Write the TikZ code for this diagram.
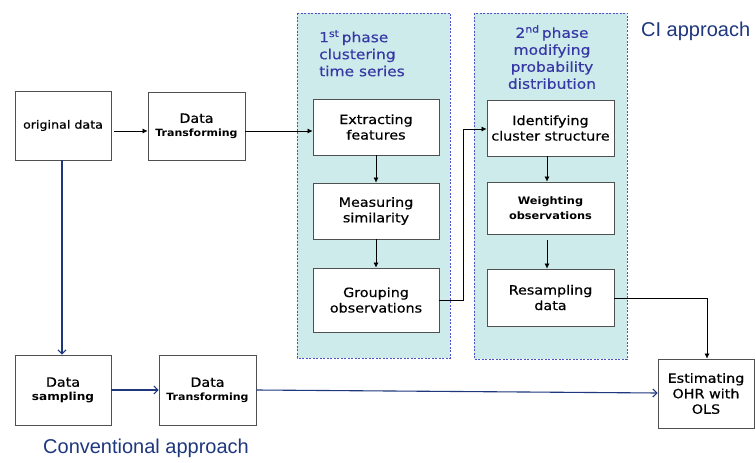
\documentclass[tikz,border=0pt]{standalone}
\usepackage{fontspec}
\usetikzlibrary{arrows.meta,calc}
\newfontfamily\boxfont[FakeStretch=1.12,FakeBold=0.6]{DejaVu Sans}
\newfontfamily\strongfont[FakeStretch=1.1]{DejaVu Sans Bold}
\newfontfamily\phasefont[FakeStretch=1.12,FakeBold=0.3]{DejaVu Sans}
\newfontfamily\titlefont{Liberation Sans}
\definecolor{panelfill}{RGB}{205,235,235}
\definecolor{paneledge}{RGB}{80,80,200}
\definecolor{phasetext}{RGB}{55,55,165}
\definecolor{navy}{RGB}{30,55,125}
\definecolor{boxedge}{RGB}{80,80,80}
\begin{document}
\begin{tikzpicture}[x=1pt,y=-1pt,
  stepbox/.style={draw=boxedge,line width=0.8pt,fill=white,align=center,
    inner sep=0pt,font=\boxfont\fontsize{12.8}{15.5}\selectfont},
  panel/.style={draw=paneledge,fill=panelfill,line width=0.8pt,
    dash pattern=on 2pt off 1.5pt},
  phase/.style={text=phasetext,font=\phasefont\fontsize{13.8}{17}\selectfont,inner sep=0pt},
  approach/.style={text=navy,font=\titlefont\fontsize{20}{24}\selectfont,inner sep=0pt},
  flow/.style={draw=black,line width=0.6pt,-{Latex[length=5pt,width=5pt]}},
  convflow/.style={draw=navy,line width=1.1pt,-{Straight Barb[length=4pt,width=8pt]}}
]
\useasboundingbox (0,0) rectangle (756,463);

% the two phase panels
\path[panel] (297,13) rectangle (450,358);
\path[panel] (474,13) rectangle (627,359);

% panel headings
\node[phase,anchor=north west,align=left] (ph1) at (319,30)
  {1\textsuperscript{st}\,phase\\clustering\\time series};
\node[phase,anchor=north,align=center] (ph2) at (552,25)
  {2\textsuperscript{nd}\,phase\\modifying\\probability\\distribution};

% approach labels
\node[approach,anchor=west] (ci) at (641,31) {CI approach};
\node[approach,anchor=west] (conv) at (43,448) {Conventional approach};

% boxes
\node[stepbox,minimum width=96pt,minimum height=69pt] (orig) at (63,125.5)
  {\fontsize{11.3}{14}\selectfont original data};
\node[stepbox,minimum width=97pt,minimum height=68pt] (dt1) at (196.5,126)
  {Data\\[-2pt]{\strongfont\fontsize{10}{12}\selectfont Transforming}};
\node[stepbox,minimum width=126pt,minimum height=56pt] (ext) at (376,127)
  {Extracting\\features};
\node[stepbox,minimum width=126pt,minimum height=56pt] (meas) at (376,211)
  {Measuring\\similarity};
\node[stepbox,minimum width=126pt,minimum height=64pt] (grp) at (376,300)
  {Grouping\\observations};
\node[stepbox,minimum width=127pt,minimum height=56pt] (idn) at (550.5,128)
  {Identifying\\cluster structure};
\node[stepbox,minimum width=127pt,minimum height=52pt] (wgt) at (550.5,208)
  {\strongfont\fontsize{10.3}{14}\selectfont Weighting\\\strongfont\fontsize{10.3}{14}\selectfont observations};
\node[stepbox,minimum width=127pt,minimum height=57pt] (res) at (550.5,297.5)
  {Resampling\\data};
\node[stepbox,minimum width=96pt,minimum height=69pt] (est) at (706,393.5)
  {Estimating\\OHR with\\OLS};
\node[stepbox,minimum width=96pt,minimum height=70pt] (samp) at (63,390)
  {Data\\[-2pt]{\strongfont\fontsize{11}{12}\selectfont sampling}};
\node[stepbox,minimum width=97pt,minimum height=70pt] (dt2) at (207.5,390)
  {Data\\[-2pt]{\strongfont\fontsize{10}{12}\selectfont Transforming}};

% routing points
\coordinate (up) at (463,300);
\coordinate (down) at (707,298);

% CI approach connectors
\draw[flow] ($(orig.east|-0,131)+(3,0)$) -- (dt1.west|-0,131);
\draw[flow] (dt1.east|-0,131) -- (ext.west|-0,131);
\draw[flow] (ext.south) -- (meas.north);
\draw[flow] (meas.south) -- (grp.north);
\draw[flow] (grp.east|-up) -- (up) -- (up|-0,129) -- (idn.west|-0,129);
\draw[flow] (idn.south-|547,0) -- (wgt.north-|547,0);
\draw[flow] ($(wgt.south-|547,0)+(0,6)$) -- (res.north-|547,0);
\draw[flow] (res.east|-down) -- (down) -- (est.north-|down);

% conventional approach connectors
\draw[convflow] (orig.south-|62,0) -- (samp.north-|62,0);
\draw[convflow] (samp.east) -- (dt2.west);
\draw[convflow] (dt2.east) -- (est.west|-0,393);
\end{tikzpicture}
\end{document}
